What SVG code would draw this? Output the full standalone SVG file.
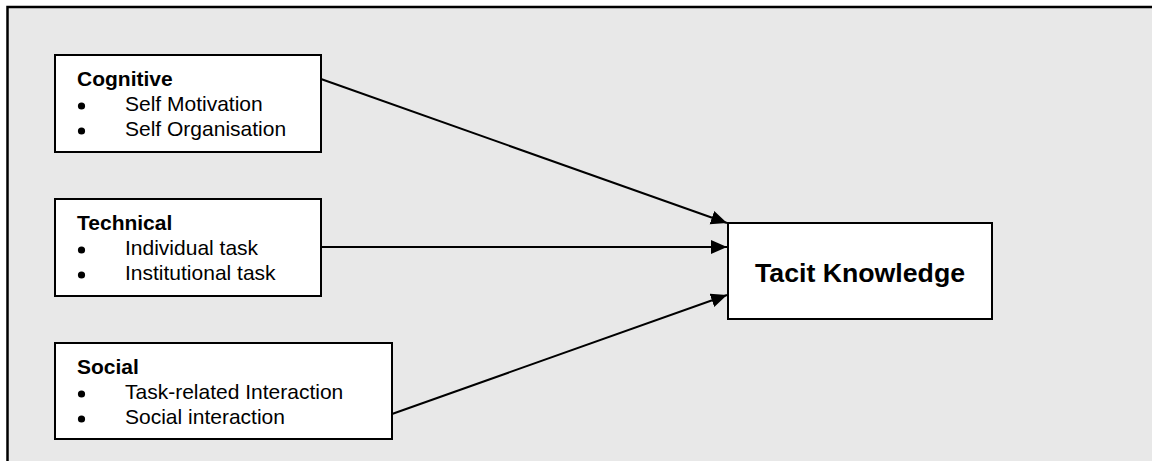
<svg xmlns="http://www.w3.org/2000/svg" width="1152" height="461" viewBox="0 0 1152 461">
  <defs>
    <style>
      .box { fill: #ffffff; stroke: #000000; stroke-width: 2; }
      .title { font-family: "Liberation Sans", Arial, sans-serif; font-weight: bold; font-size: 21px; fill: #000; }
      .item { font-family: "Liberation Sans", Arial, sans-serif; font-size: 21px; fill: #000; }
      .main { font-family: "Liberation Sans", Arial, sans-serif; font-weight: bold; font-size: 26.7px; fill: #000; }
      .link { stroke: #000; stroke-width: 2; fill: none; marker-end: url(#arrow); }
      .dot { fill: #000; }
    </style>
    <marker id="arrow" markerUnits="userSpaceOnUse" markerWidth="17" markerHeight="15" refX="16" refY="7" orient="auto">
      <path d="M0,0 L16,7 L0,14 Z" fill="#000"/>
    </marker>
  </defs>

  <!-- background panel -->
  <rect x="0" y="0" width="1152" height="461" fill="#ffffff"/>
  <rect x="8" y="7" width="1160" height="470" fill="#e8e8e8"/>
  <path d="M7.5,461 L7.5,7 L1152,7" fill="none" stroke="#000" stroke-width="2.5"/>

  <!-- connectors -->
  <g id="connectors">
    <line class="link" x1="321" y1="79" x2="727" y2="223"/>
    <line class="link" x1="321" y1="247" x2="727" y2="247"/>
    <line class="link" x1="392" y1="414" x2="727" y2="295"/>
  </g>

  <g id="cognitive">
    <rect class="box" x="55" y="55" width="266" height="97"/>
    <text class="title" x="77" y="86">Cognitive</text>
    <circle class="dot" cx="81.5" cy="106" r="3.6"/>
    <text class="item" x="125" y="111">Self Motivation</text>
    <circle class="dot" cx="81.5" cy="131" r="3.6"/>
    <text class="item" x="125" y="136">Self Organisation</text>
  </g>

  <g id="technical">
    <rect class="box" x="55" y="199" width="266" height="97"/>
    <text class="title" x="77" y="230">Technical</text>
    <circle class="dot" cx="81.5" cy="250" r="3.6"/>
    <text class="item" x="125" y="255">Individual task</text>
    <circle class="dot" cx="81.5" cy="275" r="3.6"/>
    <text class="item" x="125" y="280">Institutional task</text>
  </g>

  <g id="social">
    <rect class="box" x="55" y="343" width="337" height="96"/>
    <text class="title" x="77" y="374">Social</text>
    <circle class="dot" cx="81.5" cy="394" r="3.6"/>
    <text class="item" x="125" y="399">Task-related Interaction</text>
    <circle class="dot" cx="81.5" cy="419" r="3.6"/>
    <text class="item" x="125" y="424">Social interaction</text>
  </g>

  <g id="tacit-knowledge">
    <rect class="box" x="728" y="223" width="264" height="96"/>
    <text class="main" x="860" y="282" text-anchor="middle">Tacit Knowledge</text>
  </g>
</svg>
